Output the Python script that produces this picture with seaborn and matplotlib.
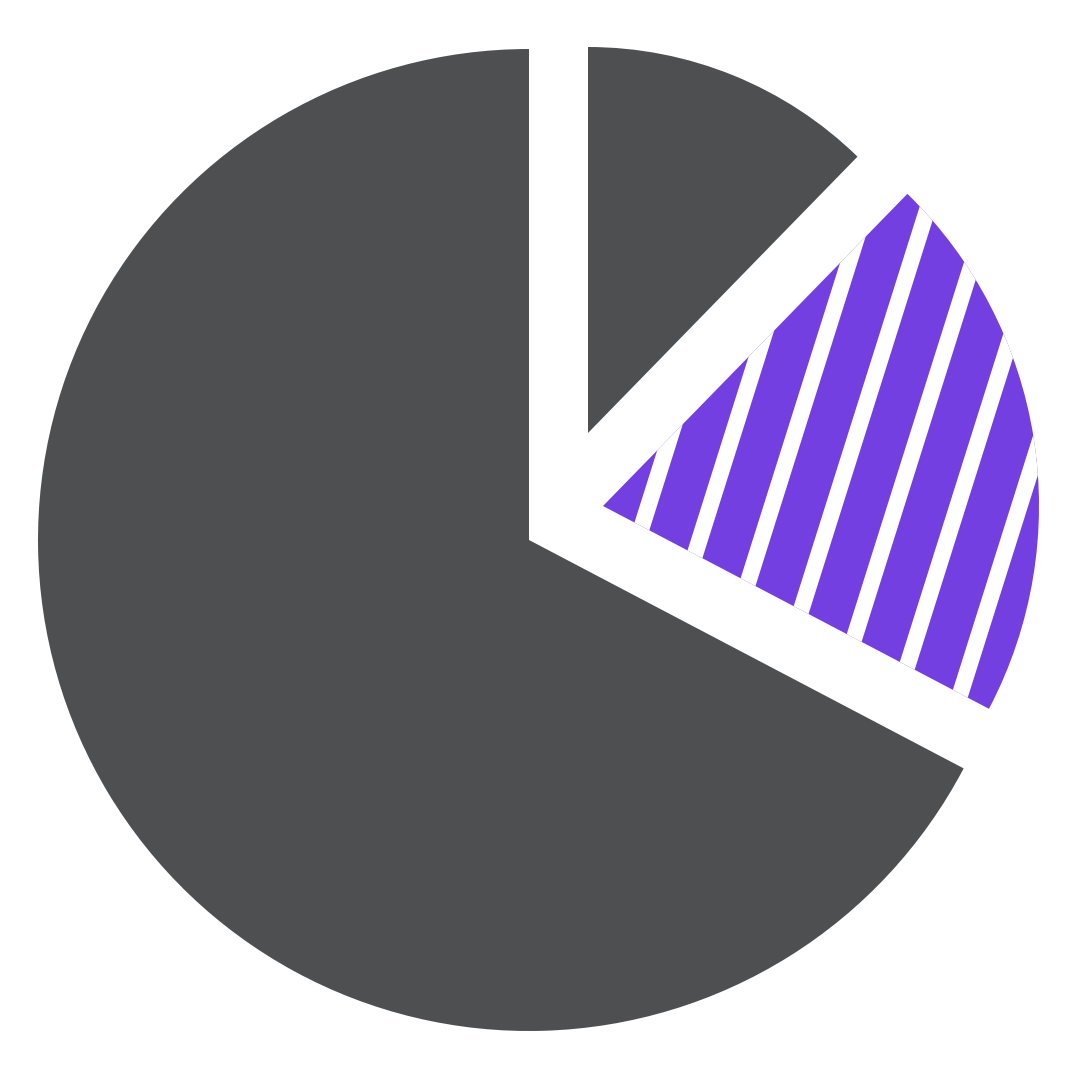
import numpy as np
import seaborn as sns
import matplotlib.pyplot as plt

# shares of the three slices (percent), counter-clockwise from 12 o'clock
shares = [67.3, 20.4, 12.3]
slice_colors = ["#4e4f51", "#743fe1", "#4e4f51"]

# where each (pulled out) slice sits on the 1080 px canvas, and its radius
slice_centers = [(529, 540), (603, 506), (588, 433)]
slice_radii = [491, 436, 386]

# stripe pattern on the purple slice
stripe_angle = 72.5
stripe_step = 59.0
stripe_gap_px = 16.5
stripe_anchor = (696, 551)

sns.set_theme(style="white")

H = 1080
fig = plt.figure(figsize=(10.8, 10.8), dpi=100)
ax = fig.add_axes([0, 0, 1, 1])

wedge_sets = []
for i, ((cx, cy), r) in enumerate(zip(slice_centers, slice_radii)):
    wedges, _ = ax.pie(shares, startangle=90, counterclock=True,
                       center=(cx, H - cy), radius=r, colors=slice_colors,
                       wedgeprops=dict(linewidth=0, edgecolor="none"))
    for j, w in enumerate(wedges):
        w.set_visible(j == i)
    wedge_sets.append(wedges)

purple = wedge_sets[1][1]

# white stripes clipped to the purple slice
a = np.deg2rad(stripe_angle)
d = np.array([np.cos(a), np.sin(a)])
n = np.array([np.sin(a), -np.cos(a)])
p0 = np.array([stripe_anchor[0], H - stripe_anchor[1]])
for k in range(-15, 16):
    p = p0 + k * stripe_step * n
    seg = np.array([p - 900 * d, p + 900 * d])
    line, = ax.plot(seg[:, 0], seg[:, 1], color="white",
                    lw=stripe_gap_px * 72 / 100, solid_capstyle="butt")
    line.set_clip_path(purple)

ax.set_xlim(0, H)
ax.set_ylim(0, H)
ax.set_aspect("equal")
ax.axis("off")

fig.savefig("out.png", dpi=100, facecolor="white")
